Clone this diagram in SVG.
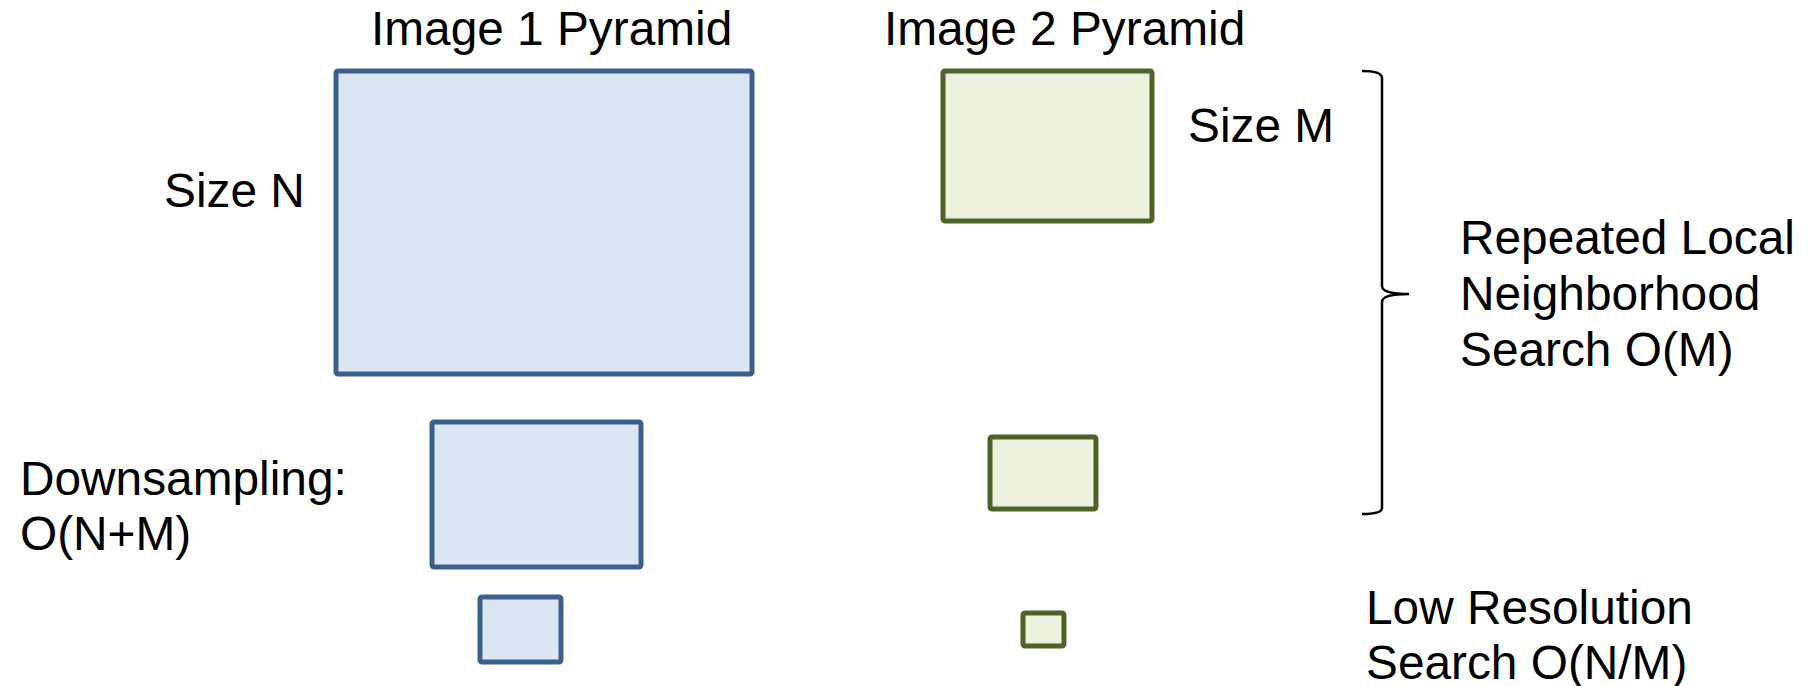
<svg xmlns="http://www.w3.org/2000/svg" width="1810" height="686" viewBox="0 0 1810 686">
<style>
.t{font-family:"Liberation Sans",Arial,sans-serif;font-size:47.8px;fill:#000}
.b{fill:#dce6f2;stroke:#3c5f8c;stroke-width:5}
.g{fill:#ebf1de;stroke:#4f6228;stroke-width:5}
.br{fill:none;stroke:#000;stroke-width:2.5}
</style>
<rect width="1810" height="686" fill="#fff"/>
<g id="title1"><text class="t" x="371" y="45">Image 1 Pyramid</text></g>
<g id="title2"><text class="t" x="884" y="45">Image 2 Pyramid</text></g>
<g id="img1-l0"><rect class="b" x="336" y="71" width="416" height="303" rx="2"/></g>
<g id="img1-l1"><rect class="b" x="432" y="422" width="209" height="145" rx="2"/></g>
<g id="img1-l2"><rect class="b" x="480" y="597" width="81" height="65" rx="2"/></g>
<g id="img2-l0"><rect class="g" x="943" y="71" width="209" height="150" rx="2"/></g>
<g id="img2-l1"><rect class="g" x="990" y="437" width="106" height="72" rx="2"/></g>
<g id="img2-l2"><rect class="g" x="1023" y="613" width="41" height="33" rx="2"/></g>
<g id="label-sizeN"><text class="t" x="164" y="207">Size N</text></g>
<g id="label-sizeM"><text class="t" x="1188" y="142">Size M</text></g>
<g id="label-down"><text class="t" x="20" y="495">Downsampling:</text><text class="t" x="20" y="550">O(N+M)</text></g>
<g id="label-repeat"><text class="t" x="1460" y="254">Repeated Local</text><text class="t" x="1460" y="310">Neighborhood</text><text class="t" x="1460" y="366">Search O(M)</text></g>
<g id="label-low"><text class="t" x="1366" y="624">Low Resolution</text><text class="t" x="1366" y="679">Search O(N/M)</text></g>
<g id="connectors">
<path class="br" d="M1362,71 Q1382,71 1382,78 L1382,286 Q1382,294 1409,294 Q1382,294 1382,302 L1382,508 Q1382,514 1362,514"/>
</g>
</svg>
